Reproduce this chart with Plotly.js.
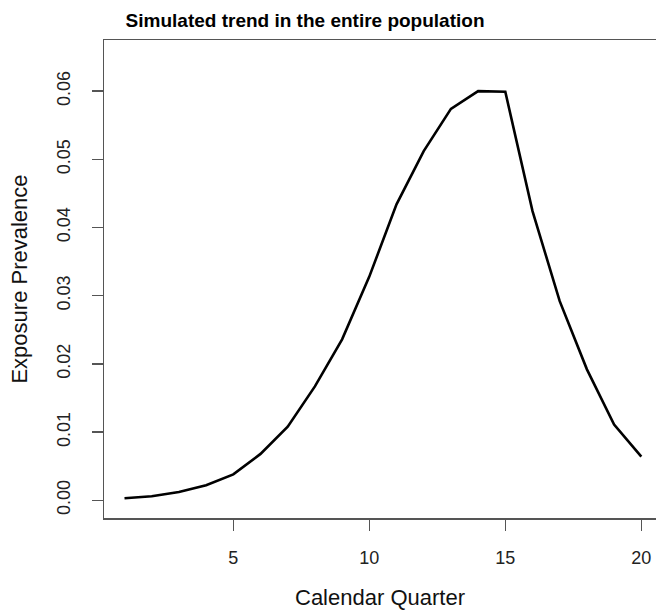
<!DOCTYPE html>
<html>
<head>
<meta charset="utf-8">
<script src="https://cdn.plot.ly/plotly-3.0.1.min.js"></script>
<style>html,body{margin:0;padding:0;background:#fff;overflow:hidden}#chart{width:656px;height:610px}</style>
</head>
<body>
<div id="chart"></div>
<script>
const quarters = [1,2,3,4,5,6,7,8,9,10,11,12,13,14,15,16,17,18,19,20];
const prevalence = [0.0003,0.0006,0.0012,0.0022,0.0038,0.0068,0.0108,0.0167,0.0236,0.0328,0.0434,0.0512,0.0574,0.0600,0.0599,0.0424,0.0292,0.0192,0.0111,0.0064];
const xTicks = [5,10,15,20];
const yTicks = [0,0.01,0.02,0.03,0.04,0.05,0.06];
const yTickText = ["0.00","0.01","0.02","0.03","0.04","0.05","0.06"];

const font = "Liberation Sans, Arial, sans-serif";
const axisColor = "#555555";

Plotly.newPlot("chart", [{
  x: quarters, y: prevalence, type: "scatter", mode: "lines",
  line: {color: "#000000", width: 2.6}, hoverinfo: "skip"
}], {
  width: 656, height: 610,
  margin: {l: 104, r: 0, t: 40, b: 92},
  paper_bgcolor: "#ffffff", plot_bgcolor: "#ffffff",
  showlegend: false,
  font: {family: font, color: "#222222"},
  title: {text: "<b>Simulated trend in the entire population</b>", font: {family: font, size: 19, color: "#000000"},
          xref: "container", x: 0.465, xanchor: "center", yref: "container", y: 0.967, yanchor: "middle"},
  xaxis: {
    range: [0.246, 20.54], tickmode: "array", tickvals: xTicks, ticktext: xTicks.map(String),
    showgrid: false, zeroline: false, showline: true, mirror: true, linecolor: axisColor, linewidth: 1.5,
    ticks: "outside", ticklen: 11, tickwidth: 1.5, tickcolor: axisColor,
    tickfont: {size: 18, color: "#222222"}, ticklabelstandoff: 12,
    title: {text: "Calendar Quarter", font: {size: 22, color: "#111111"}, standoff: 25}
  },
  yaxis: {
    range: [-0.0026, 0.0675], tickmode: "array", tickvals: yTicks, ticktext: yTickText,
    showgrid: false, zeroline: false, showline: true, mirror: false, linecolor: axisColor, linewidth: 1.5,
    ticks: "outside", ticklen: 11, tickwidth: 1.5, tickcolor: axisColor, tickangle: -90,
    tickfont: {size: 18, color: "#222222"}, ticklabelstandoff: 14,
    title: {text: "Exposure Prevalence", font: {size: 22, color: "#111111"}, standoff: 20}
  }
}, {staticPlot: true, displayModeBar: false});
</script>
</body>
</html>
